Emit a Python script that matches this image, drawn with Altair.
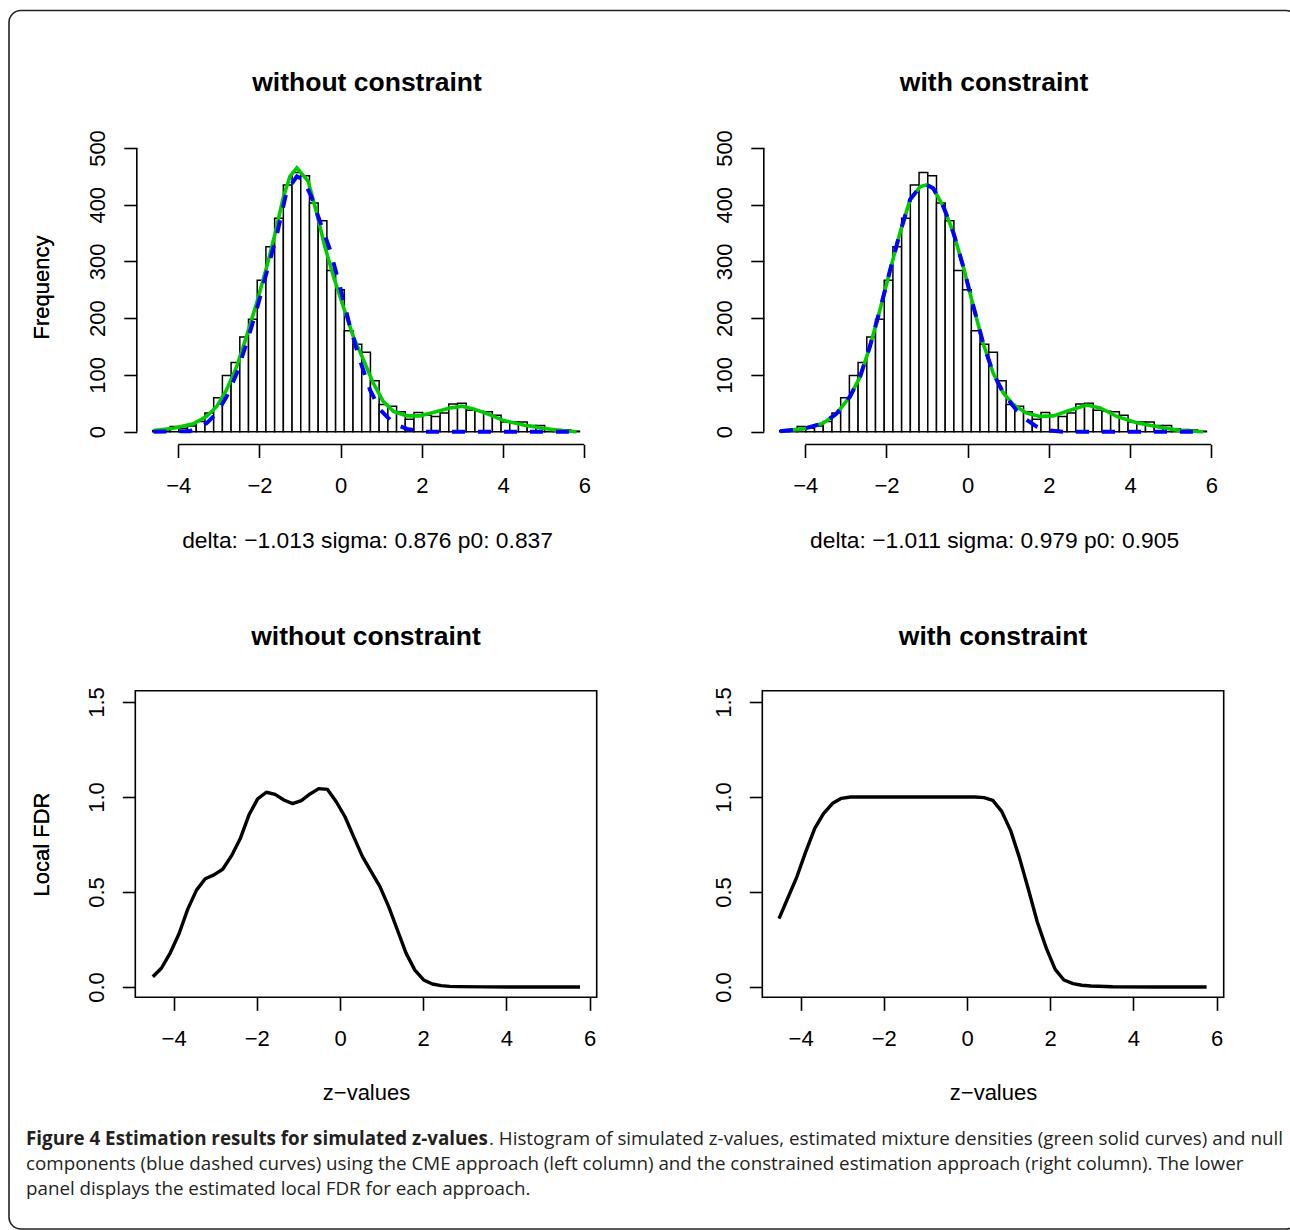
import altair as alt
import pandas as pd

W, H = 1290, 1230
FONT = "Liberation Sans"
CAP_FONT = "Open Sans"

# ---------------- data ----------------
bin_first_edge = -4.63
bin_width = 0.2145
hist_counts = [2, 3, 9, 6, 10, 18, 33, 60, 99, 122, 167, 198, 267, 326, 376, 435, 457, 451,
               403, 372, 284, 250, 178, 154, 140, 90, 48, 45, 35, 22, 34, 29, 27, 33, 49, 50,
               38, 36, 35, 29, 17, 17, 17, 11, 11, 5, 4, 3, 1]

mix_left_z = [-4.61, -4.12, -3.63, -3.30, -3.05, -2.81, -2.56, -2.32, -2.07, -1.82, -1.62, -1.41,
              -1.25, -1.08, -0.80, -0.59, -0.39, -0.18, 0.06, 0.31, 0.56, 0.80, 1.05, 1.30, 1.63,
              1.95, 2.28, 2.69, 2.98, 3.27, 3.60, 4.00, 4.50, 4.91, 5.40, 5.81]
mix_left = [2, 6, 14, 27, 45, 74, 115, 168, 227, 291, 348, 414, 450, 465, 441, 385, 326, 274,
            221, 168, 127, 86, 53, 36, 28, 28, 34, 42, 45, 40, 32, 20, 12, 7, 2, 0]

null_left_z = [-4.61, -3.71, -3.30, -3.05, -2.81, -2.56, -2.32, -2.07, -1.82, -1.58, -1.33, -1.08,
               -0.92, -0.72, -0.51, -0.26, -0.02, 0.23, 0.47, 0.72, 0.97, 1.30, 1.63, 2.03, 5.81]
null_left = [0, 1, 15, 33, 62, 103, 156, 215, 282, 345, 424, 450, 444, 414, 370, 320, 256, 185,
             127, 74, 39, 15, 5, 0, 0]

mix_right_z = [-4.62, -4.05, -3.56, -3.23, -2.90, -2.65, -2.41, -2.16, -1.91, -1.67, -1.42, -1.17,
               -1.01, -0.85, -0.60, -0.35, -0.11, 0.14, 0.38, 0.63, 0.88, 1.12, 1.45, 1.78, 2.11,
               2.52, 2.93, 3.26, 3.67, 4.16, 4.74, 5.23, 5.80]
mix_right = [1, 5, 15, 32, 62, 97, 150, 215, 285, 350, 409, 432, 435, 429, 397, 350, 291, 221,
             156, 103, 68, 48, 33, 27, 28, 38, 47, 42, 27, 16, 8, 2, 0]

null_right_z = [-4.62, -4.05, -3.56, -3.23, -2.90, -2.65, -2.41, -2.16, -1.91, -1.67, -1.42, -1.17,
                -1.01, -0.85, -0.60, -0.35, -0.11, 0.14, 0.38, 0.63, 0.88, 0.96, 1.21, 1.45, 1.70,
                2.03, 2.35, 5.80]
null_right = [1, 5, 15, 32, 62, 97, 150, 215, 285, 350, 409, 432, 435, 429, 397, 350, 291, 221,
              156, 103, 68, 60, 37, 21, 9, 2, 0, 0]

fdr_left_z = [-4.50, -4.29, -4.08, -3.87, -3.66, -3.45, -3.24, -3.03, -2.82, -2.61, -2.40, -2.19,
              -1.98, -1.77, -1.56, -1.35, -1.14, -0.93, -0.72, -0.51, -0.30, -0.09, 0.12, 0.33,
              0.54, 0.75, 0.96, 1.17, 1.38, 1.59, 1.80, 2.01, 2.22, 2.43, 2.64, 2.85, 3.50, 4.50, 5.77]
fdr_left = [0.054, 0.10, 0.18, 0.28, 0.41, 0.51, 0.57, 0.59, 0.62, 0.69, 0.78, 0.905, 0.99, 1.025,
            1.014, 0.984, 0.965, 0.981, 1.016, 1.044, 1.04, 0.975, 0.896, 0.79, 0.686, 0.607,
            0.528, 0.423, 0.30, 0.177, 0.089, 0.037, 0.016, 0.007, 0.0035, 0.002, 0.0005, 0.0, 0.0]

fdr_right_z = [-4.52, -4.31, -4.09, -3.88, -3.66, -3.45, -3.23, -3.02, -2.80, 0.19, 0.41, 0.62,
               0.83, 1.05, 1.26, 1.48, 1.69, 1.91, 2.12, 2.33, 2.55, 2.76, 2.98, 3.50, 4.50, 5.76]
fdr_right = [0.36, 0.467, 0.58, 0.71, 0.835, 0.912, 0.967, 0.993, 1.0, 1.0, 0.997, 0.982, 0.926,
             0.823, 0.681, 0.511, 0.342, 0.202, 0.093, 0.037, 0.018, 0.009, 0.005, 0.001, 0.0, 0.0]

z_ticks = [-4, -2, 0, 2, 4, 6]
count_ticks = [0, 100, 200, 300, 400, 500]
fdr_ticks = [0.0, 0.5, 1.0, 1.5]

panel_titles = ["without constraint", "with constraint"]
subtitles = ["delta: \u22121.013 sigma: 0.876 p0: 0.837",
             "delta: \u22121.011 sigma: 0.979 p0: 0.905"]
xlab_bottom = "z\u2212values"
ylab_top = "Frequency"
ylab_bottom = "Local FDR"

caption_bold = "Figure 4 Estimation results for simulated z-values"
caption_line1 = ". Histogram of simulated z-values, estimated mixture densities (green solid curves) and null"
caption_line2 = ("components (blue dashed curves) using the CME approach (left column) and the "
                 "constrained estimation approach (right column). The lower")
caption_line3 = "panel displays the estimated local FDR for each approach."

hist_df = pd.DataFrame({
    "lo": [round(bin_first_edge + i * bin_width, 4) for i in range(len(hist_counts))],
    "hi": [round(bin_first_edge + (i + 1) * bin_width, 4) for i in range(len(hist_counts))],
    "count": hist_counts,
})

# ---------------- geometry ----------------
HIST_XDOM = [-5.022, 6.320]
HIST_YDOM = [-22.5, 531.7]
HIST_YRANGE = [444.5, 130.0]
FDR_XDOM = [-4.921, 6.171]
FDR_YDOM = [-0.0542, 1.5595]
FDR_YRANGE = [997.3, 690.7]

TICK = 13
TW = 1.6
FS = 22


def x_axis(offset_y, title, center_x, title_dy, title_size):
    return alt.Axis(orient="bottom", offset=offset_y - H, values=z_ticks, format="d",
                    domain=False, grid=False, ticks=True, tickSize=TICK, tickWidth=TW,
                    tickColor="black", labelFont=FONT, labelFontSize=FS, labelColor="black",
                    labelPadding=18, labelBaseline="top", labelAlign="center", labelAngle=0,
                    labelFlush=False, labelOverlap=False,
                    title=title, titleFont=FONT, titleFontSize=title_size,
                    titleFontWeight="normal",
                    titleColor="black", titleX=center_x, titleY=title_dy, titleAlign="center",
                    titleBaseline="middle", titleAngle=0)


def y_axis(px0, values, fmt, title, center_y):
    return alt.Axis(orient="left", offset=-px0, values=values, format=fmt,
                    domain=False, grid=False, ticks=True, tickSize=TICK, tickWidth=TW,
                    tickColor="black", labelFont=FONT, labelFontSize=FS, labelColor="black",
                    labelPadding=19, labelAngle=270, labelAlign="center",
                    labelBaseline="alphabetic", labelFlush=False, labelOverlap=False,
                    title=title, titleFont=FONT, titleFontSize=FS, titleFontWeight="normal",
                    titleColor="black", titleX=48.5 - px0, titleY=round(center_y),
                    titleAngle=270, titleAlign="center", titleBaseline="alphabetic")


def hist_panel(px0, mz, mv, nz, nv, title, sub):
    px1 = px0 + 460.5
    cx = (px0 + px1) / 2

    def xs():
        return alt.Scale(domain=HIST_XDOM, range=[px0, px1], nice=False, zero=False)

    def ys():
        return alt.Scale(domain=HIST_YDOM, range=HIST_YRANGE, nice=False, zero=False)

    bars = alt.Chart(hist_df).mark_rect(fill="white", stroke="black", strokeWidth=1.5).encode(
        x=alt.X("lo:Q", scale=xs(), axis=x_axis(HIST_YRANGE[0], sub, cx, 95.5, 22.8)),
        x2="hi:Q",
        y=alt.Y("count:Q", scale=ys(),
                axis=y_axis(px0, count_ticks, "d", ylab_top,
                            (HIST_YRANGE[0] + HIST_YRANGE[1]) / 2)),
        y2=alt.datum(0),
    )
    mix = alt.Chart(pd.DataFrame({"z": mz, "v": mv})).mark_line(
        color="#00CD00", strokeWidth=3.6).encode(
        x=alt.X("z:Q", scale=xs(), axis=None), y=alt.Y("v:Q", scale=ys(), axis=None))
    null = alt.Chart(pd.DataFrame({"z": nz, "v": nv})).mark_line(
        color="#0000FF", strokeWidth=4, strokeDash=[13, 13], strokeCap="butt").encode(
        x=alt.X("z:Q", scale=xs(), axis=None), y=alt.Y("v:Q", scale=ys(), axis=None))
    xline = alt.Chart(pd.DataFrame({"a": [min(z_ticks)], "b": [max(z_ticks)],
                                    "y": [HIST_YDOM[0]]})).mark_rule(
        color="black", strokeWidth=TW).encode(
        x=alt.X("a:Q", scale=xs(), axis=None), x2="b:Q", y=alt.Y("y:Q", scale=ys(), axis=None))
    yline = alt.Chart(pd.DataFrame({"x": [HIST_XDOM[0]], "a": [min(count_ticks)],
                                    "b": [max(count_ticks)]})).mark_rule(
        color="black", strokeWidth=TW).encode(
        x=alt.X("x:Q", scale=xs(), axis=None), y=alt.Y("a:Q", scale=ys(), axis=None), y2="b:Q")
    ttl = alt.Chart(pd.DataFrame({"t": [title]})).mark_text(
        font=FONT, fontSize=26.5, fontWeight="bold", color="black", align="center",
        baseline="middle").encode(text="t:N", x=alt.value(cx), y=alt.value(83))
    return [bars, mix, null, xline, yline, ttl]


def fdr_panel(px0, fz, fv, title):
    px1 = px0 + 461.4
    cx = (px0 + px1) / 2

    def xs():
        return alt.Scale(domain=FDR_XDOM, range=[px0, px1], nice=False, zero=False)

    def ys():
        return alt.Scale(domain=FDR_YDOM, range=FDR_YRANGE, nice=False, zero=False)

    box = alt.Chart(pd.DataFrame({"x0": [FDR_XDOM[0]], "x1": [FDR_XDOM[1]],
                                  "y0": [FDR_YDOM[0]], "y1": [FDR_YDOM[1]]})).mark_rect(
        fillOpacity=0, stroke="black", strokeWidth=TW).encode(
        x=alt.X("x0:Q", scale=xs(), axis=x_axis(FDR_YRANGE[0], xlab_bottom, cx, 94.7, FS)),
        x2="x1:Q",
        y=alt.Y("y0:Q", scale=ys(),
                axis=y_axis(px0, fdr_ticks, ".1f", ylab_bottom,
                            (FDR_YRANGE[0] + FDR_YRANGE[1]) / 2)),
        y2="y1:Q")
    line = alt.Chart(pd.DataFrame({"z": fz, "v": fv})).mark_line(
        color="black", strokeWidth=3.4, strokeJoin="round").encode(
        x=alt.X("z:Q", scale=xs(), axis=None), y=alt.Y("v:Q", scale=ys(), axis=None))
    ttl = alt.Chart(pd.DataFrame({"t": [title]})).mark_text(
        font=FONT, fontSize=26.5, fontWeight="bold", color="black", align="center",
        baseline="middle").encode(text="t:N", x=alt.value(cx), y=alt.value(637))
    return [box, line, ttl]


one = pd.DataFrame({"a": [0]})
border = alt.Chart(one).mark_rect(fillOpacity=0, stroke="#222222", strokeWidth=1.6,
                                  cornerRadius=12).encode(
    x=alt.value(9), x2=alt.value(1298), y=alt.value(10.5), y2=alt.value(1229))


def cap(text, x, y, bold=False):
    return alt.Chart(pd.DataFrame({"t": [text]})).mark_text(
        font=CAP_FONT, fontSize=18.8, fontWeight="bold" if bold else "normal", color="#231f20",
        align="left", baseline="middle").encode(text="t:N", x=alt.value(x), y=alt.value(y))


layers = [border]
layers += hist_panel(136.8, mix_left_z, mix_left, null_left_z, null_left,
                     panel_titles[0], subtitles[0])
layers += hist_panel(763.8, mix_right_z, mix_right, null_right_z, null_right,
                     panel_titles[1], subtitles[1])
layers += fdr_panel(135.3, fdr_left_z, fdr_left, panel_titles[0])
layers += fdr_panel(762.3, fdr_right_z, fdr_right, panel_titles[1])
layers += [cap(caption_bold, 26, 1139, bold=True), cap(caption_line1, 489, 1139),
           cap(caption_line2, 26, 1164), cap(caption_line3, 26, 1189)]

chart = alt.layer(*layers).resolve_scale(x="independent", y="independent").resolve_axis(
    x="independent", y="independent").properties(
    width=W, height=H, autosize=alt.AutoSizeParams(type="none"), padding=0,
    background="white").configure_view(strokeWidth=0)

chart.save("out.html", embed_options={"renderer": "svg", "actions": False})
